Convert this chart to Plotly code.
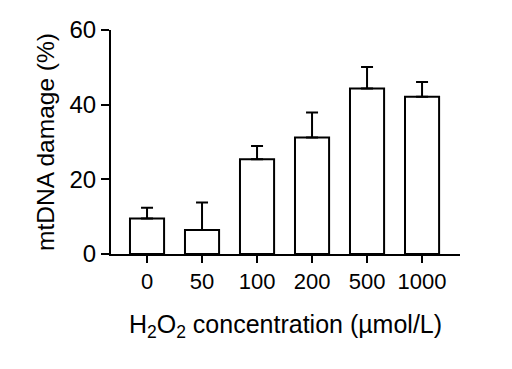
import plotly.graph_objects as go

categories = ["0", "50", "100", "200", "500", "1000"]
damage = [9.5, 6.4, 25.4, 31.2, 44.3, 42.1]
err_up = [2.9, 7.4, 3.5, 6.7, 5.8, 4.0]
y_ticks = [0, 20, 40, 60]

FONT = "Liberation Sans, Arial, sans-serif"

fig = go.Figure()
fig.add_trace(go.Bar(
    x=list(range(len(categories))),
    y=damage,
    width=0.62,
    marker=dict(color="white", line=dict(color="black", width=2)),
    error_y=dict(type="data", symmetric=False, array=err_up,
                 arrayminus=[0] * len(err_up),
                 color="black", thickness=2, width=6),
    hoverinfo="skip",
))

fig.update_layout(
    width=512, height=369,
    margin=dict(l=111, r=52, t=30, b=115),
    plot_bgcolor="white", paper_bgcolor="white",
    showlegend=False,
    font=dict(family=FONT, color="black"),
    xaxis=dict(
        range=[-0.655, 5.69], automargin=False,
        tickmode="array", tickvals=list(range(len(categories))), ticktext=categories,
        showline=True, linecolor="black", linewidth=2,
        ticks="outside", ticklen=7, tickwidth=2, tickcolor="black",
        tickfont=dict(size=22, family=FONT, color="black"),
        showgrid=False, zeroline=False,
        title=dict(text="H<sub>2</sub>O<sub>2</sub> concentration (µmol/L)",
                   font=dict(size=25, family=FONT, color="black"), standoff=22),
    ),
    yaxis=dict(
        range=[0, 60], automargin=False,
        tickmode="array", tickvals=y_ticks,
        showline=True, linecolor="black", linewidth=2,
        ticks="outside", ticklen=8, tickwidth=2, tickcolor="black",
        tickfont=dict(size=24, family=FONT, color="black"),
        showgrid=False, zeroline=False,
        title=dict(text="mtDNA damage (%)",
                   font=dict(size=24.5, family=FONT, color="black"), standoff=8),
    ),
)

fig.write_html("out.html", config={"displayModeBar": False},
               post_script="document.body.style.margin='0';document.body.style.overflow='hidden';")
